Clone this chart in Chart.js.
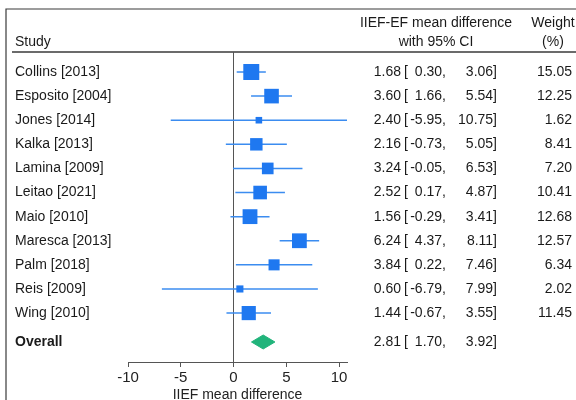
<!DOCTYPE html>
<html>
<head>
<meta charset="utf-8">
<script src="https://cdn.jsdelivr.net/npm/chart.js@4.4.0/dist/chart.umd.min.js"></script>
<style>
  body { margin: 0; background: #fff; }
  #chart { display: block; }
</style>
</head>
<body>
<canvas id="chart" width="576" height="400"></canvas>
<script>
var studies = ['Collins [2013]', 'Esposito [2004]', 'Jones [2014]', 'Kalka [2013]', 'Lamina [2009]',
  'Leitao [2021]', 'Maio [2010]', 'Maresca [2013]', 'Palm [2018]', 'Reis [2009]', 'Wing [2010]'];
var estimates = [1.68, 3.60, 2.40, 2.16, 3.24, 2.52, 1.56, 6.24, 3.84, 0.60, 1.44];
var lower = [0.30, 1.66, -5.95, -0.73, -0.05, 0.17, -0.29, 4.37, 0.22, -6.79, -0.67];
var upper = [3.06, 5.54, 10.75, 5.05, 6.53, 4.87, 3.41, 8.11, 7.46, 7.99, 3.55];
var weights = [15.05, 12.25, 1.62, 8.41, 7.20, 10.41, 12.68, 12.57, 6.34, 2.02, 11.45];
var overallLabel = 'Overall';
var overallEst = 2.81;
var overallLower = 1.70;
var overallUpper = 3.92;

var FONT = '"Liberation Sans", Arial, sans-serif';
var BLUE = '#1f78f0';
var LINE_BLUE = '#3b8cf0';
var GREEN = '#21b47b';
var TEXT = '#1a1a1a';

Chart.defaults.font.family = FONT;

function rowOf(i) { return i + 1; }
var overallRow = studies.length + 1.2;

// square side grows with the square root of the weight
function squareRadius(w) {
  var side = 2 + 3.6 * Math.sqrt(w);
  return side / Math.SQRT2;
}

var datasets = [];
datasets.push({
  label: 'estimates',
  data: estimates.map(function (e, i) { return { x: e, y: rowOf(i) }; }),
  pointStyle: 'rect',
  pointRadius: weights.map(squareRadius),
  pointBackgroundColor: BLUE,
  pointBorderWidth: 0,
  order: 0
});
var dh = 0.29;
datasets.push({
  label: 'overall',
  data: [
    { x: overallLower, y: overallRow },
    { x: overallEst, y: overallRow - dh },
    { x: overallUpper, y: overallRow },
    { x: overallEst, y: overallRow + dh },
    { x: overallLower, y: overallRow }
  ],
  showLine: true,
  fill: 'shape',
  backgroundColor: GREEN,
  borderColor: GREEN,
  borderWidth: 1,
  pointRadius: 0,
  order: 1
});
studies.forEach(function (s, i) {
  datasets.push({
    label: s,
    data: [{ x: lower[i], y: rowOf(i) }, { x: upper[i], y: rowOf(i) }],
    showLine: true,
    borderColor: LINE_BLUE,
    borderWidth: 1.5,
    pointRadius: 0,
    order: 2
  });
});

var tablePlugin = {
  id: 'table',
  beforeDraw: function (chart) {
    var c = chart.ctx;
    c.save();
    c.fillStyle = '#fff';
    c.fillRect(0, 0, chart.width, chart.height);
    c.strokeStyle = '#3a3a3a';
    c.lineWidth = 1.2;
    c.beginPath();
    c.moveTo(6, 400); c.lineTo(6, 9); c.lineTo(576, 9);
    c.stroke();
    c.lineWidth = 1.5;
    c.beginPath();
    c.moveTo(12, 52); c.lineTo(576, 52);
    c.stroke();
    c.restore();
  },
  afterDraw: function (chart) {
    var c = chart.ctx;
    var y = chart.scales.y;
    c.save();
    c.fillStyle = TEXT;
    c.textBaseline = 'middle';
    c.font = '14px ' + FONT;
    c.textAlign = 'left';
    c.fillText('Study', 15, 42);
    c.textAlign = 'center';
    c.fillText('IIEF-EF mean difference', 436, 23);
    c.fillText('with 95% CI', 436, 42);
    c.fillText('Weight', 553, 23);
    c.fillText('(%)', 553, 42);

    function numbers(py, e, lo, hi) {
      c.textAlign = 'right';
      c.fillText(e.toFixed(2), 401, py);
      c.textAlign = 'left';
      c.fillText('[', 404, py);
      c.textAlign = 'right';
      c.fillText(lo.toFixed(2) + ',', 446, py);
      c.fillText(hi.toFixed(2) + ']', 497, py);
    }
    studies.forEach(function (s, i) {
      var py = y.getPixelForValue(rowOf(i));
      c.textAlign = 'left';
      c.fillText(s, 15, py);
      numbers(py, estimates[i], lower[i], upper[i]);
      c.textAlign = 'right';
      c.fillText(weights[i].toFixed(2), 572, py);
    });
    var po = y.getPixelForValue(overallRow);
    numbers(po, overallEst, overallLower, overallUpper);
    c.font = 'bold 14px ' + FONT;
    c.textAlign = 'left';
    c.fillText(overallLabel, 15, po);
    c.restore();
  }
};

var chart = new Chart('chart', {
  type: 'scatter',
  data: { datasets: datasets },
  plugins: [tablePlugin],
  options: {
    responsive: false,
    animation: false,
    events: [],
    layout: { padding: { left: 128, right: 229, top: 52, bottom: -2 } },
    plugins: { legend: { display: false }, tooltip: { enabled: false } },
    scales: {
      x: {
        type: 'linear',
        min: -10,
        max: 10.75,
        border: { display: true, color: '#555', width: 1 },
        grid: {
          color: function (ctx) { return ctx.tick && ctx.tick.value === 0 ? '#555' : 'rgba(0,0,0,0)'; },
          tickColor: '#555',
          tickLength: 5,
          lineWidth: 1
        },
        ticks: {
          stepSize: 5,
          includeBounds: false,
          color: '#222',
          padding: 3,
          font: { size: 15, lineHeight: 1 },
          maxRotation: 0
        },
        title: {
          display: true,
          text: 'IIEF mean difference',
          color: '#222',
          font: { size: 14, lineHeight: 1 },
          padding: { top: 0, bottom: 0 }
        }
      },
      y: {
        type: 'linear',
        reverse: true,
        min: 0.17,
        max: 13.03,
        display: false
      }
    }
  }
});
</script>
</body>
</html>
